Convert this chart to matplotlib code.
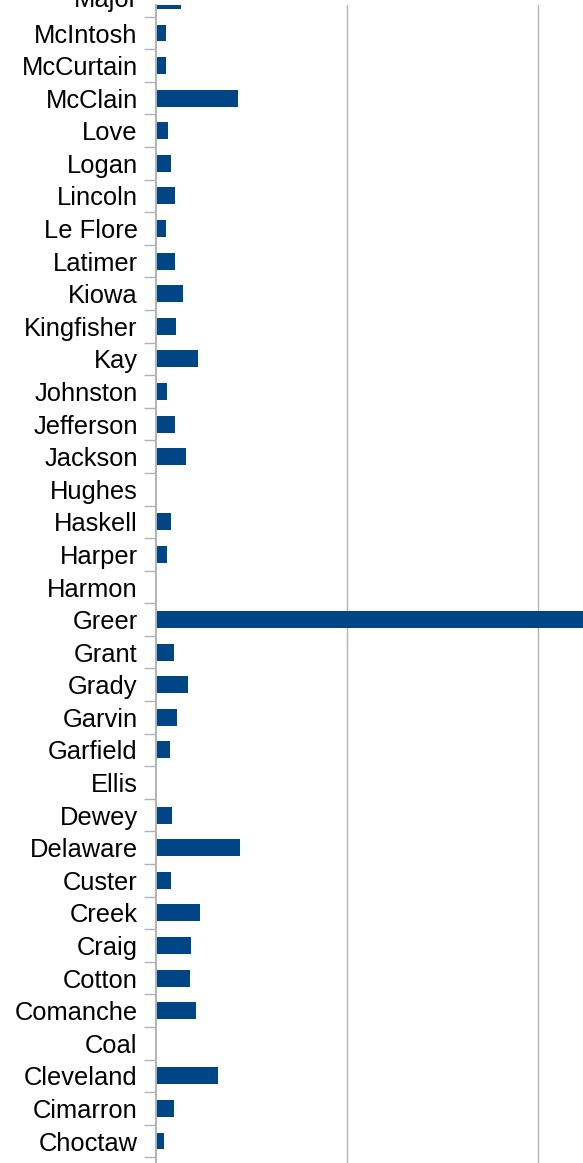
import matplotlib
matplotlib.use("Agg")
import matplotlib.pyplot as plt

counties = ["Choctaw", "Cimarron", "Cleveland", "Coal", "Comanche", "Cotton", "Craig",
            "Creek", "Custer", "Delaware", "Dewey", "Ellis", "Garfield", "Garvin",
            "Grady", "Grant", "Greer", "Harmon", "Harper", "Haskell", "Hughes",
            "Jackson", "Jefferson", "Johnston", "Kay", "Kingfisher", "Kiowa",
            "Latimer", "Le Flore", "Lincoln", "Logan", "Love", "McClain",
            "McCurtain", "McIntosh", "Major"]
values = [4.2, 9.4, 32.4, 0, 20.9, 17.8, 18.3,
          23.0, 7.8, 43.9, 8.4, 0, 7.3, 11.0,
          16.7, 9.4, 250.0, 0, 5.8, 7.8, 0,
          15.7, 9.9, 5.8, 22.0, 10.5, 14.1,
          9.9, 5.2, 9.9, 7.8, 6.3, 42.9,
          5.2, 5.2, 13.1]
grid_values = [100, 200]

W, H = 583, 1163
dpi = 100
fig = plt.figure(figsize=(W / dpi, H / dpi), dpi=dpi)
left_px, right_px, top_px, bottom_px = 155.7, 583, 5, 1163
ax = fig.add_axes([left_px / W, 1 - bottom_px / H, (right_px - left_px) / W, (bottom_px - top_px) / H])

gray = "#b3b3b3"
ypos = list(range(len(counties)))
ax.barh(ypos, values, height=0.52, color="#004586", zorder=3)

ax.set_xlim(0, (right_px - left_px) / 191.3 * 100)
ax.set_ylim(-0.675, 34.86)

for g in grid_values:
    ax.axvline(g, color=gray, lw=1.0, zorder=1)

for s in ["top", "right", "bottom"]:
    ax.spines[s].set_visible(False)
ax.spines["left"].set_color(gray)
ax.spines["left"].set_linewidth(1.4)
ax.spines["left"].set_zorder(4)

fs = 18.4
fam = ["Liberation Sans", "DejaVu Sans"]
ax.set_xticks([])
ax.set_yticks(ypos[:-1])
ax.set_yticklabels(counties[:-1], fontsize=fs, family=fam)
ax.set_yticks([i - 0.5 for i in range(len(counties))], minor=True)
ax.tick_params(axis="y", which="major", length=0, pad=13.0)
ax.tick_params(axis="y", which="minor", length=8.4, width=1.0, color=gray)

# label for the partially visible top category
ax.annotate(counties[-1], xy=(0, ypos[-1]), xycoords=("axes fraction", "data"),
            xytext=(-18.2, 0), textcoords="offset pixels", ha="right", va="center",
            fontsize=fs, family=fam, annotation_clip=False)

fig.savefig("out.png", dpi=dpi)
